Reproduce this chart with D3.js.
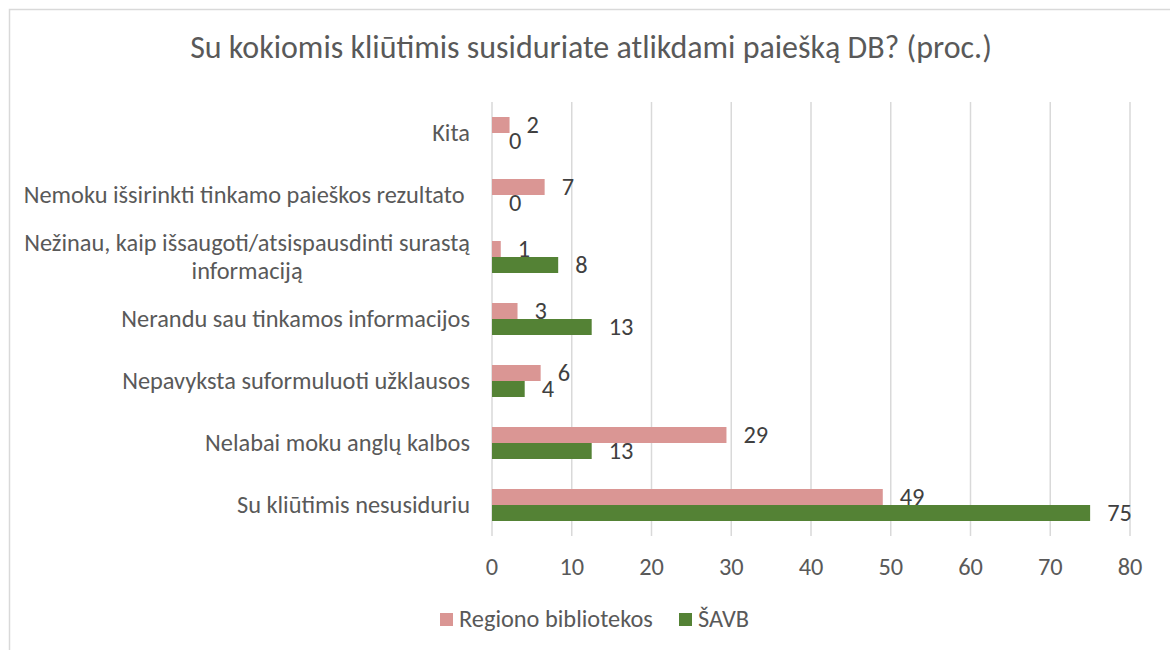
<!DOCTYPE html>
<html lang="lt">
<head>
  <meta charset="UTF-8">
  <title>DB paieška</title>
  <style>
    body {
      margin: 0;
      background-color: #fff;
    }

    svg text {
      font-family: Carlito, Calibri, Lato, sans-serif;
    }

    .title {
      fill: #595959;
      text-anchor: middle;
    }

    .cat-label, .tick-label, .legend-label {
      fill: #595959;
    }

    .value-label {
      fill: #404040;
    }

    .grid line {
      stroke: #d9d9d9;
      stroke-width: 1.5;
    }
  </style>
</head>
<body>
  <script src="https://d3js.org/d3.v7.min.js"></script>
  <script>
    var categories = [
      'Kita',
      'Nemoku išsirinkti tinkamo paieškos rezultato ',
      'Nežinau, kaip išsaugoti/atsispausdinti surastą informaciją',
      'Nerandu sau tinkamos informacijos',
      'Nepavyksta suformuluoti užklausos',
      'Nelabai moku anglų kalbos',
      'Su kliūtimis nesusiduriu'
    ];
    var regionoValues = [2.2, 6.6, 1.1, 3.2, 6.1, 29.4, 49];
    var savbValues = [0, 0, 8.3, 12.5, 4.1, 12.5, 75];
    var seriesNames = ['Regiono bibliotekos', 'ŠAVB'];
    var seriesColors = ['#da9694', '#548235'];
    var xTicks = [0, 10, 20, 30, 40, 50, 60, 70, 80];
    var titleText = 'Su kokiomis kliūtimis susiduriate atlikdami paiešką DB? (proc.)';

    var width = 1170,
        height = 650;
    var margin = {top: 102, right: 40, bottom: 114, left: 492};

    var svg = d3.select('body').append('svg')
      .attr('width', width)
      .attr('height', height);

    // chart frame (only top and left edges are in view)
    svg.append('rect')
      .attr('x', 9.5)
      .attr('y', 9.5)
      .attr('width', width + 20)
      .attr('height', height + 20)
      .attr('fill', 'none')
      .attr('stroke', '#d9d9d9')
      .attr('stroke-width', 1.5);

    // pick font sizes so text widths come out like the original
    function fitSize(text, targetWidth) {
      var t = svg.append('text').attr('font-size', 24).text(text);
      var w = t.node().getComputedTextLength();
      t.remove();
      return 24 * targetWidth / w;
    }
    var titleSize = fitSize(titleText, 802);
    var labelSize = fitSize('Nemoku išsirinkti tinkamo paieškos rezultato', 441);

    var x = d3.scaleLinear()
      .domain([0, 80])
      .range([margin.left, width - margin.right]);

    var y = d3.scaleBand()
      .domain(categories)
      .range([margin.top, height - margin.bottom]);

    var barH = 16;

    svg.append('text')
      .attr('class', 'title')
      .attr('x', 591)
      .attr('y', 58)
      .attr('font-size', titleSize)
      .text(titleText);

    // gridlines
    svg.append('g')
      .attr('class', 'grid')
      .selectAll('line')
      .data(xTicks)
      .enter().append('line')
      .attr('x1', function(d) { return x(d); })
      .attr('x2', function(d) { return x(d); })
      .attr('y1', margin.top)
      .attr('y2', height - margin.bottom);

    // x axis labels
    svg.selectAll('.tick-label')
      .data(xTicks)
      .enter().append('text')
      .attr('class', 'tick-label')
      .attr('x', function(d) { return x(d); })
      .attr('y', 575)
      .attr('font-size', labelSize)
      .style('text-anchor', 'middle')
      .text(function(d) { return d; });

    // category labels, wrapped like excel does
    var maxW = 470;
    categories.forEach(function(c) {
      var g = svg.append('text')
        .attr('class', 'cat-label')
        .attr('font-size', labelSize)
        .style('white-space', 'pre');
      var words = c.split(' ');
      var lines = [];
      var line = [];
      var probe = g.append('tspan');
      words.forEach(function(w) {
        line.push(w);
        probe.text(line.join(' '));
        if (probe.node().getComputedTextLength() > maxW && line.length > 1) {
          line.pop();
          lines.push(line.join(' '));
          line = [w];
        }
      });
      lines.push(line.join(' '));
      probe.remove();

      var widths = lines.map(function(l) {
        var t = g.append('tspan').text(l);
        var w = t.node().getComputedTextLength();
        t.remove();
        return w;
      });
      var blockW = d3.max(widths);
      var cx = margin.left - 22 - blockW / 2;
      var cy = y(c) + y.bandwidth() / 2;
      var lh = 28;
      lines.forEach(function(l, i) {
        g.append('tspan')
          .attr('x', cx)
          .attr('y', cy + (i - (lines.length - 1) / 2) * lh)
          .attr('dy', '0.33em')
          .style('text-anchor', 'middle')
          .text(l);
      });
    });

    var series = [regionoValues, savbValues];

    series.forEach(function(vals, si) {
      var rows = categories.map(function(c, i) { return {cat: c, value: vals[i]}; });

      svg.append('g')
        .selectAll('rect')
        .data(rows)
        .enter().append('rect')
        .attr('x', x(0))
        .attr('y', function(d) { return y(d.cat) + y.bandwidth() / 2 - barH + si * barH; })
        .attr('width', function(d) { return x(d.value) - x(0); })
        .attr('height', barH)
        .attr('fill', seriesColors[si]);

      svg.append('g')
        .selectAll('text')
        .data(rows)
        .enter().append('text')
        .attr('class', 'value-label')
        .attr('x', function(d) { return x(d.value) + 17; })
        .attr('y', function(d) { return y(d.cat) + y.bandwidth() / 2 - barH / 2 + si * barH; })
        .attr('dy', '0.33em')
        .attr('font-size', labelSize)
        .text(function(d) { return d3.format('.0f')(d.value); });
    });

    // legend
    var legendX = [440, 679];
    var legend = svg.append('g');
    seriesNames.forEach(function(name, i) {
      legend.append('rect')
        .attr('x', legendX[i])
        .attr('y', 613)
        .attr('width', 13)
        .attr('height', 13)
        .attr('fill', seriesColors[i]);
      legend.append('text')
        .attr('class', 'legend-label')
        .attr('x', legendX[i] + 19)
        .attr('y', 627)
        .attr('font-size', labelSize)
        .text(name);
    });
  </script>
</body>
</html>
